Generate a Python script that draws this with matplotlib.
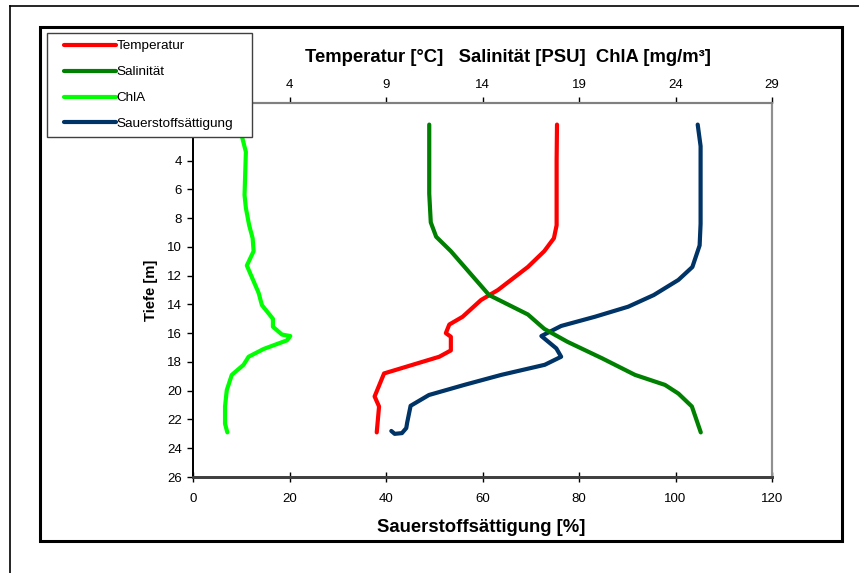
import numpy as np
import matplotlib
matplotlib.use("Agg")
import matplotlib.pyplot as plt
from matplotlib.patches import Rectangle
from matplotlib.lines import Line2D

plt.rcParams["font.family"] = ["Liberation Sans", "DejaVu Sans"]

# ---- data read from the profile ----
T_DEPTH = [1.5, 4.0, 8.5, 9.4, 10.3, 11.4, 13.0, 13.7, 14.86, 15.4, 16.0, 16.25,
           17.2, 17.64, 18.8, 20.4, 21.1, 22.9]
T_VAL = [17.86, 17.84, 17.84, 17.7, 17.2, 16.35, 14.8, 13.92, 12.97, 12.28, 12.1, 12.36,
         12.36, 11.76, 8.9, 8.41, 8.64, 8.52]

S_DEPTH = [1.5, 6.3, 8.3, 9.3, 10.3, 13.35, 14.7, 15.7, 16.6, 17.75, 18.9, 19.6,
           20.2, 21.1, 22.9]
S_VAL = [11.24, 11.24, 11.32, 11.6, 12.36, 14.34, 16.35, 17.2, 18.4, 20.2, 21.9, 23.46,
         24.15, 24.85, 25.31]

C_DEPTH = [1.5, 2.3, 3.4, 6.4, 7.3, 8.5, 9.4, 10.3, 11.3, 13.2, 14.05, 15.0, 15.55,
           16.1, 16.2, 16.5, 17.1, 17.64, 18.2, 18.9, 19.96, 21.1, 22.3, 22.9]
C_VAL = [1.45, 1.53, 1.74, 1.67, 1.74, 1.91, 2.09, 2.14, 1.79, 2.4, 2.57, 3.14, 3.14,
         3.61, 4.04, 3.87, 2.66, 1.88, 1.62, 1.01, 0.75, 0.66, 0.66, 0.78]

O_DEPTH = [1.5, 3.0, 8.4, 9.9, 11.4, 12.3, 13.35, 14.16, 14.86, 15.5, 16.2, 17.06,
           17.64, 18.2, 18.9, 19.6, 20.3, 21.05, 22.2, 22.6, 22.95, 23.0, 22.8]
O_VAL = [104.6, 105.2, 105.2, 105.0, 103.5, 100.6, 95.5, 90.2, 83.3, 76.3, 72.2, 75.3,
         76.3, 72.9, 63.9, 56.2, 48.9, 45.1, 44.4, 44.2, 43.3, 41.8, 41.1]

BOTTOM_TICKS = [0, 20, 40, 60, 80, 100, 120]
TOP_TICKS = [4, 9, 14, 19, 24, 29]
DEPTH_TICKS = list(range(0, 27, 2))
# 0 und 2 liegen unter der Legende
DEPTH_LABELS = ["" if d < 4 else str(d) for d in DEPTH_TICKS]

W, H = 859, 573


def fx(px):
    return px / W


def fy(py):
    return 1 - py / H


fig = plt.figure(figsize=(W / 100, H / 100), dpi=100)

# Rahmen (Tabellenlinie + dicker Diagrammrahmen)
fig.add_artist(Line2D([fx(10), fx(10)], [fy(6), 0], color="black", lw=1.2))
fig.add_artist(Line2D([fx(10), 1], [fy(6), fy(6)], color="black", lw=1.2))
fig.add_artist(Rectangle((fx(40), fy(541)), fx(842) - fx(40), fy(27) - fy(541),
                         fill=False, edgecolor="black", lw=2.2))

ax = fig.add_axes([fx(193), fy(477), fx(772) - fx(193), fy(103) - fy(477)])
ax2 = ax.twiny()

lw = 3.0
h_t, = ax2.plot(T_VAL, T_DEPTH, color="#ff0000", lw=lw, solid_capstyle="round",
                solid_joinstyle="round", label="Temperatur")
h_s, = ax2.plot(S_VAL, S_DEPTH, color="#008000", lw=lw, solid_capstyle="round",
                solid_joinstyle="round", label="Salinität")
h_c, = ax2.plot(C_VAL, C_DEPTH, color="#00ff00", lw=lw, solid_capstyle="round",
                solid_joinstyle="round", label="ChlA")
h_o, = ax.plot(O_VAL, O_DEPTH, color="#003366", lw=lw, solid_capstyle="round",
               solid_joinstyle="round", label="Sauerstoffsättigung")

ax.set_xlim(0, 120)
ax2.set_xlim(-1, 29)
ax.set_ylim(26, 0)

ax.set_xticks(BOTTOM_TICKS)
ax2.set_xticks(TOP_TICKS)
ax.set_yticks(DEPTH_TICKS)
ax.set_yticklabels(DEPTH_LABELS)

ax.tick_params(axis="x", direction="inout", length=7, width=1, labelsize=9.5, pad=8)
ax.tick_params(axis="y", direction="out", length=4, width=1, labelsize=9.5, pad=4)
ax2.tick_params(axis="x", direction="out", length=4, width=1, labelsize=9.5, pad=5,
                colors="black")

for a in (ax, ax2):
    a.spines["left"].set_color("black")
    a.spines["left"].set_linewidth(1.3)
    a.spines["bottom"].set_color("#404040")
    a.spines["bottom"].set_linewidth(2.0)
    a.spines["top"].set_color("#808080")
    a.spines["top"].set_linewidth(1.5)
    a.spines["right"].set_color("#909090")
    a.spines["right"].set_linewidth(1.5)

# Achsentitel
fig.text(fx(508), fy(57), "Temperatur [°C]   Salinität [PSU]  ChlA [mg/m³]",
         ha="center", va="center", fontsize=13.3, fontweight="bold")
fig.text(fx(481), fy(527), "Sauerstoffsättigung [%]", ha="center", va="center",
         fontsize=13.3, fontweight="bold")
fig.text(fx(151), fy(290), "Tiefe [m]", ha="center", va="center", rotation=90,
         fontsize=10.7, fontweight="bold")

# Legendenkasten
fig.add_artist(Rectangle((fx(47), fy(137)), fx(252) - fx(47), fy(33) - fy(137),
                         facecolor="white", edgecolor="#404040", lw=1.0, zorder=4))
fig.legend(handles=[h_t, h_s, h_c, h_o], loc="upper left",
           bbox_to_anchor=(fx(64), fy(40)), frameon=False, fontsize=9.7,
           borderpad=0, borderaxespad=0, handlelength=3.85, handletextpad=0.05,
           labelspacing=1.0)

fig.savefig("out.png", dpi=100)
